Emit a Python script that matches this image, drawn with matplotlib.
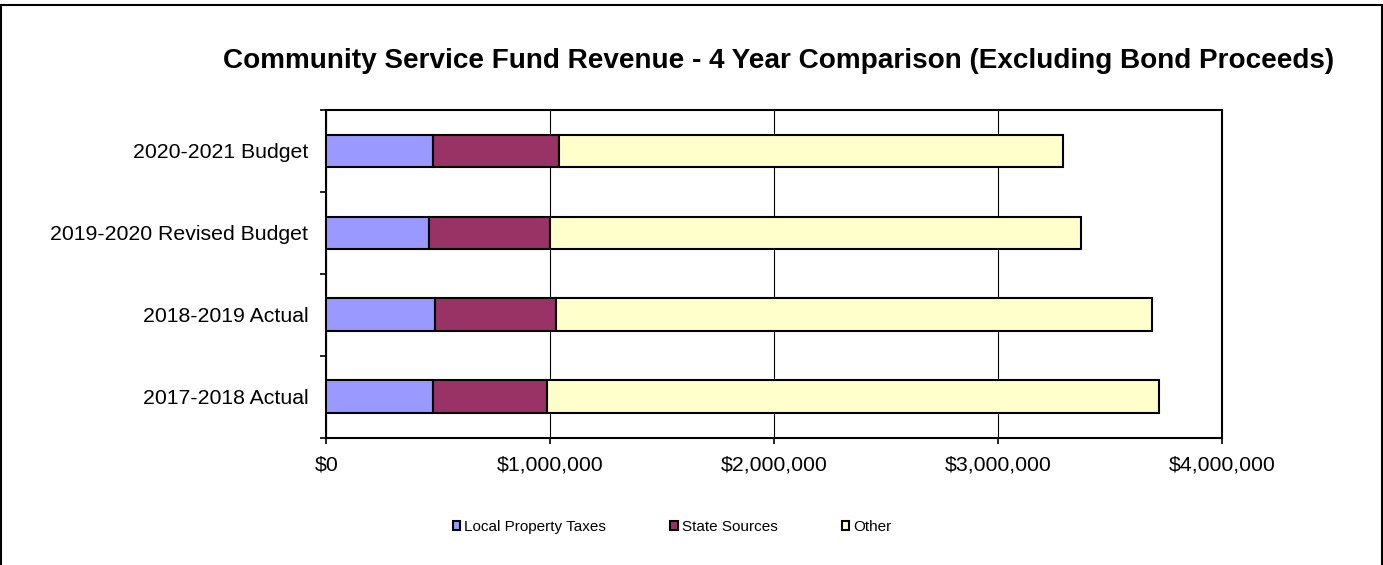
import matplotlib.pyplot as plt
import numpy as np
from matplotlib.ticker import FuncFormatter, FixedLocator
from matplotlib.patches import Rectangle

plt.rcParams['font.family'] = ['Liberation Sans', 'DejaVu Sans']

# data, bottom to top
years = ['2017-2018 Actual', '2018-2019 Actual', '2019-2020 Revised Budget', '2020-2021 Budget']
local_taxes = [478000, 484000, 459000, 478000]
state_sources = [508000, 544000, 539000, 560000]
other = [2735000, 2660000, 2373000, 2255000]

colors = ['#9999FF', '#993366', '#FFFFCC']
labels = ['Local Property Taxes', 'State Sources', 'Other']

fig = plt.figure(figsize=(13.83, 5.65), dpi=100)
ax = fig.add_axes([0.236, 0.2253, 0.6474, 0.58])

y = np.arange(len(years))
left = np.zeros(len(years))
for vals, c, lab in zip([local_taxes, state_sources, other], colors, labels):
    ax.barh(y, vals, left=left, height=0.4, color=c, edgecolor='black',
            linewidth=1.5, label=lab, zorder=3)
    left = left + np.array(vals)

ax.set_xlim(0, 4000000)
ax.set_ylim(-0.5, len(years) - 0.5)
ax.set_xticks([0, 1000000, 2000000, 3000000, 4000000])
ax.xaxis.set_major_formatter(FuncFormatter(lambda v, p: '${:,.0f}'.format(v)))
ax.set_yticks(y)
ax.set_yticklabels(years)
ax.yaxis.set_minor_locator(FixedLocator(np.arange(-0.5, len(years), 1.0)))
ax.tick_params(axis='y', which='major', length=0, pad=13, labelsize=15.3)
ax.tick_params(axis='y', which='minor', length=4, width=1.2)
ax.tick_params(axis='x', length=4, width=1.2, pad=9, labelsize=15.3)
ax.grid(axis='x', color='black', linewidth=0.8, zorder=0)
for s in ax.spines.values():
    s.set_linewidth(1.5)

fig.text(0.563, 0.892, 'Community Service Fund Revenue - 4 Year Comparison (Excluding Bond Proceeds)',
         ha='center', va='center', fontsize=20.1, fontweight='bold')

fig.legend(loc='center', bbox_to_anchor=(0.486, 0.067), ncol=3, frameon=False,
           fontsize=11, handlelength=0.5, handleheight=0.55, handletextpad=0.25,
           columnspacing=4.2)

# outer border
fig.patches.append(Rectangle((1 / 1383, -0.01), 1381 / 1383, 1 - 5 / 565 + 0.01,
                             transform=fig.transFigure, fill=False,
                             edgecolor='black', linewidth=1.5))

fig.savefig('out.png', dpi=100)
